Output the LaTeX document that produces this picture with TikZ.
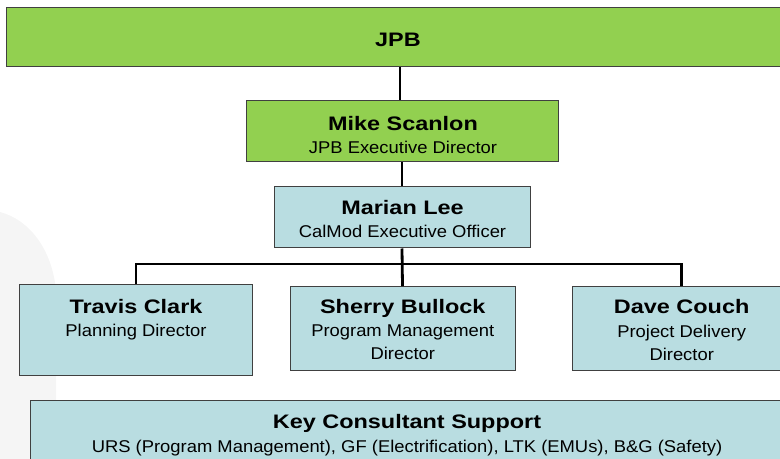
\documentclass[tikz,border=0pt]{standalone}
\usepackage{fontspec}
\setmainfont{Liberation Sans}[FakeStretch=1.08,BoldFeatures={FakeStretch=1.2}]
\usetikzlibrary{positioning}

\definecolor{jpbgreen}{HTML}{92D050}
\definecolor{calblue}{HTML}{B9DDE1}
\newcommand{\namefont}{\fontsize{19.6}{24}\bfseries\selectfont}
\newcommand{\rolefont}{\fontsize{17.1}{23.5}\selectfont}

\begin{document}
\begin{tikzpicture}[x=1bp,y=-1bp,
  green node/.style={rectangle,fill=jpbgreen,draw=black!75,line width=1bp,inner sep=0pt},
  blue node/.style={rectangle,fill=calblue,draw=black!75,line width=1bp,inner sep=0pt},
  text node/.style={align=center,anchor=base,inner sep=0pt,font=\rolefont},
  link/.style={draw=black,line width=2.8bp}]

  \clip (0,0) rectangle (780,459);
  % faint train in the background
  \fill[black!4] (0,212) .. controls (30,220) and (52,250) .. (56,290) -- (56,459) -- (0,459) -- cycle;

  \node[green node,minimum width=786bp,minimum height=59bp] (jpb) at (400,37.5) {};
  \node[green node,minimum width=312bp,minimum height=61bp] (mike) at (402,131.5) {};
  \node[blue node,minimum width=256bp,minimum height=61bp] (marian) at (402,217.5) {};
  \node[blue node,minimum width=232bp,minimum height=91bp] (travis) at (136,330) {};
  \node[blue node,minimum width=225bp,minimum height=84bp] (sherry) at (402.5,328.7) {};
  \node[blue node,minimum width=219bp,minimum height=84bp] (dave) at (681.5,328.7) {};
  \node[blue node,minimum width=752bp,minimum height=80bp] (key) at (407,440.7) {};

  % base of a text node is its last line
  \node[text node] (jpb text) at (398,46.7) {\namefont JPB};
  \node[text node] (mike text) at (403,154) {{\namefont Mike Scanlon}\\JPB Executive Director};
  \node[text node] (marian text) at (402.5,238) {{\namefont Marian Lee}\\CalMod Executive Officer};
  \node[text node] (travis text) at (136,337) {{\namefont Travis Clark}\\Planning Director};
  \node[text node] (sherry text) at (402.8,360) {{\namefont Sherry Bullock}\\Program Management\\Director};
  \node[text node] (dave text) at (681.7,360.5) {{\namefont Dave Couch}\\Project Delivery\\Director};
  \node[text node] (key text) at (407,452) {{\namefont Key Consultant Support}\\URS (Program Management), GF (Electrification), LTK (EMUs), B\&G (Safety)};

  \coordinate (bus) at (402,264);
  \draw[link] (jpb.south) -- (jpb.south |- mike.north);
  \draw[link] (mike.south) -- (marian.north);
  \draw[link] (marian.south) -- (sherry.north);
  \draw[link] (travis.north) |- (bus) -| (dave.north);

\end{tikzpicture}
\end{document}
